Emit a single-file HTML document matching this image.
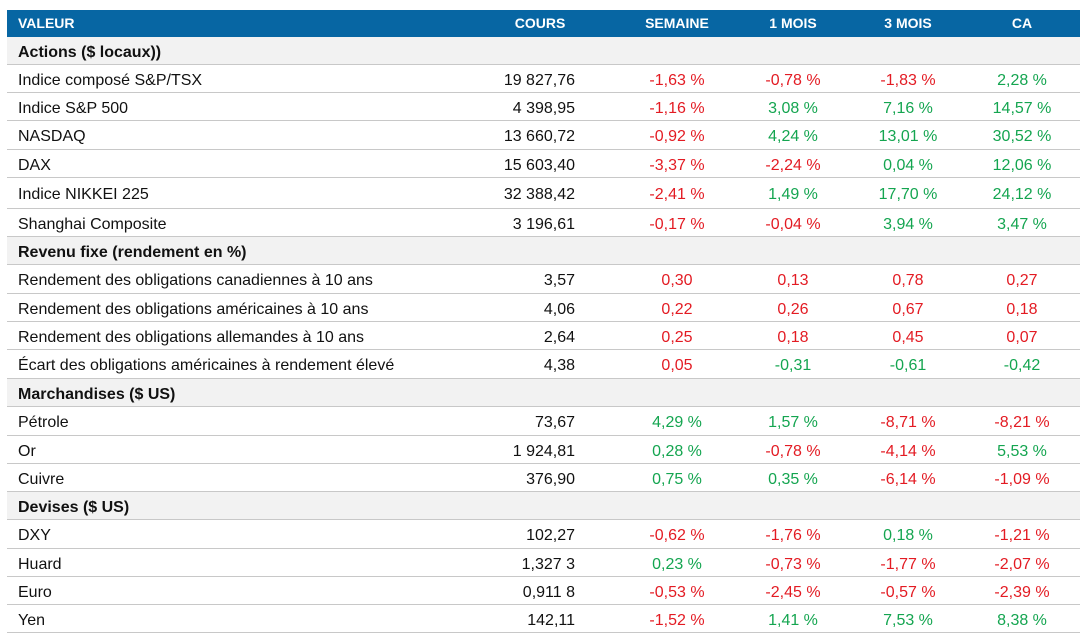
<!DOCTYPE html>
<html><head><meta charset="utf-8"><style>
body{margin:0;width:1087px;height:640px;background:#fff;font-family:"Liberation Sans",Arial,sans-serif;position:relative;overflow:hidden}
.r{position:absolute;left:7px;width:1073px;border-bottom:1px solid #c8c8c8;font-size:16px;color:#111}
.r span{position:absolute;top:0;white-space:nowrap}
.h{background:#0766a3;color:#fff;font-weight:bold;font-size:14px;border:none}
.s{background:#f2f2f2;font-weight:bold}
.n{left:11px}
.c{right:505px;text-align:right}
.c1,.c2,.c3,.c4{width:120px;text-align:center}
.c1{left:610px}.c2{left:726px}.c3{left:841px}.c4{left:955px}
.R{color:#e31b23}.G{color:#14a550}
</style></head><body>
<div class="r h" style="top:10px;height:27px;line-height:27px"><span class="n">VALEUR</span><span style="left:493px;width:80px;text-align:center">COURS</span><span class="c1">SEMAINE</span><span class="c2">1 MOIS</span><span class="c3">3 MOIS</span><span class="c4">CA</span></div>
<div id="t"></div>
<script>
const rows=[
["s","Actions ($ locaux))",37,65],
["d","Indice composé S&P/TSX",65,93,"19 827,76","-1,63 %","-0,78 %","-1,83 %","2,28 %"],
["d","Indice S&P 500",93,121,"4 398,95","-1,16 %","3,08 %","7,16 %","14,57 %"],
["d","NASDAQ",121,150,"13 660,72","-0,92 %","4,24 %","13,01 %","30,52 %"],
["d","DAX",150,178,"15 603,40","-3,37 %","-2,24 %","0,04 %","12,06 %"],
["d","Indice NIKKEI 225",178,209,"32 388,42","-2,41 %","1,49 %","17,70 %","24,12 %"],
["d","Shanghai Composite",209,237,"3 196,61","-0,17 %","-0,04 %","3,94 %","3,47 %"],
["s","Revenu fixe (rendement en %)",237,265],
["d","Rendement des obligations canadiennes à 10 ans",265,294,"3,57","0,30","0,13","0,78","0,27","RRRR"],
["d","Rendement des obligations américaines à 10 ans",294,322,"4,06","0,22","0,26","0,67","0,18","RRRR"],
["d","Rendement des obligations allemandes à 10 ans",322,350,"2,64","0,25","0,18","0,45","0,07","RRRR"],
["d","Écart des obligations américaines à rendement élevé",350,379,"4,38","0,05","-0,31","-0,61","-0,42","RGGG"],
["s","Marchandises ($ US)",379,407],
["d","Pétrole",407,436,"73,67","4,29 %","1,57 %","-8,71 %","-8,21 %"],
["d","Or",436,464,"1 924,81","0,28 %","-0,78 %","-4,14 %","5,53 %"],
["d","Cuivre",464,492,"376,90","0,75 %","0,35 %","-6,14 %","-1,09 %"],
["s","Devises ($ US)",492,520],
["d","DXY",520,549,"102,27","-0,62 %","-1,76 %","0,18 %","-1,21 %"],
["d","Huard",549,577,"1,327 3","0,23 %","-0,73 %","-1,77 %","-2,07 %"],
["d","Euro",577,605,"0,911 8","-0,53 %","-2,45 %","-0,57 %","-2,39 %"],
["d","Yen",605,633,"142,11","-1,52 %","1,41 %","7,53 %","8,38 %"]];
let h="";
for(const r of rows){const ht=r[3]-r[2]-1;
h+=`<div class="r ${r[0]=='s'?'s':''}" style="top:${r[2]}px;height:${ht}px;line-height:${ht+4}px"><span class="n">${r[1].replace('&','&amp;')}</span>`;
if(r[0]=='d'){h+=`<span class="c">${r[4]}</span>`;
for(let i=0;i<4;i++){const v=r[5+i];let col=r[9]?r[9][i]:(v[0]=='-'?'R':'G');h+=`<span class="c${i+1} ${col}">${v}</span>`;}}
h+="</div>";}
document.getElementById("t").innerHTML=h;
</script>
</body></html>
